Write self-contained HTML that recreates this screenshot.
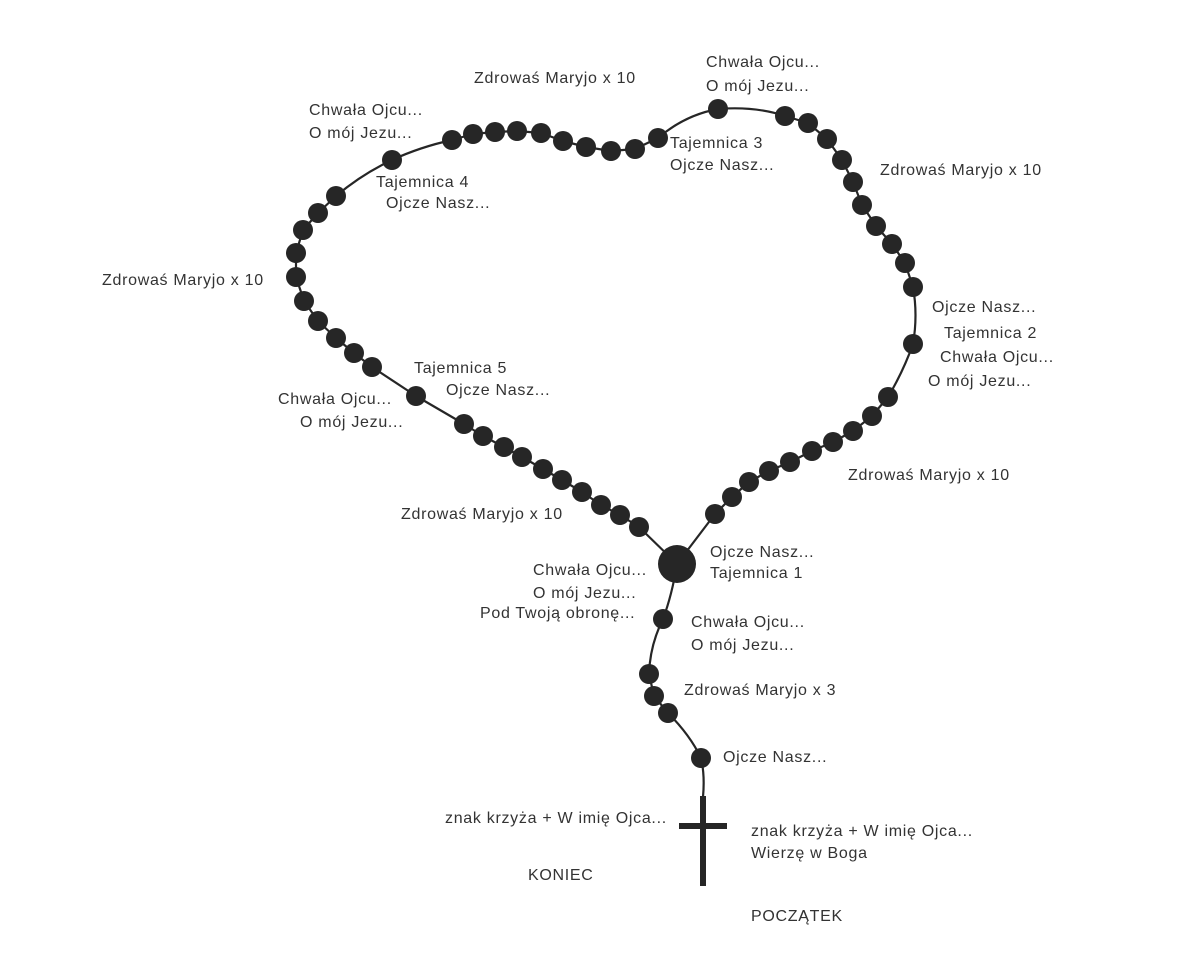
<!DOCTYPE html>
<html><head><meta charset="utf-8"><style>
html,body{margin:0;padding:0;background:#fff;}
svg{display:block;}
text{font-family:"Liberation Sans",sans-serif;font-size:16px;letter-spacing:0.7px;fill:#333;}
</style></head><body>
<svg width="1180" height="961" viewBox="0 0 1180 961">
<g fill="none" stroke="#262626" stroke-width="2.2" stroke-linejoin="round">
<path d="M677,564 L639,527 620,515 601,505 582,492 562,480 543,469 522,457 504,447 483,436 464,424 416,396 372,367 354,353 336,338 318,321 304,301 296,277 296,253 303,230 318,213 336,196 Q362,174 392,160 Q420,147 452,140 L473,134 495,132 517,131 541,133 563,141 586,147 611,151 635,149 658,138 Q685,115 718,109 Q755,106 785,116 L808,123 827,139 842,160 853,182 862,205 876,226 892,244 905,263 913,287 Q918,315 913,344 Q903,372 888,397 L872,416 853,431 833,442 812,451 790,462 769,471 749,482 732,497 715,514 Z"/>
<path d="M677,564 Q672,595 663,619 Q650,645 649,674 L654,696 668,713 Q690,735 701,758 Q705,775 703,797"/>
</g>
<g fill="#262626">
<circle cx="677" cy="564" r="19"/>
<circle cx="639" cy="527" r="10"/><circle cx="620" cy="515" r="10"/><circle cx="601" cy="505" r="10"/><circle cx="582" cy="492" r="10"/><circle cx="562" cy="480" r="10"/><circle cx="543" cy="469" r="10"/><circle cx="522" cy="457" r="10"/><circle cx="504" cy="447" r="10"/><circle cx="483" cy="436" r="10"/><circle cx="464" cy="424" r="10"/><circle cx="416" cy="396" r="10"/>
<circle cx="372" cy="367" r="10"/><circle cx="354" cy="353" r="10"/><circle cx="336" cy="338" r="10"/><circle cx="318" cy="321" r="10"/><circle cx="304" cy="301" r="10"/><circle cx="296" cy="277" r="10"/><circle cx="296" cy="253" r="10"/><circle cx="303" cy="230" r="10"/><circle cx="318" cy="213" r="10"/><circle cx="336" cy="196" r="10"/><circle cx="392" cy="160" r="10"/>
<circle cx="452" cy="140" r="10"/><circle cx="473" cy="134" r="10"/><circle cx="495" cy="132" r="10"/><circle cx="517" cy="131" r="10"/><circle cx="541" cy="133" r="10"/><circle cx="563" cy="141" r="10"/><circle cx="586" cy="147" r="10"/><circle cx="611" cy="151" r="10"/><circle cx="635" cy="149" r="10"/><circle cx="658" cy="138" r="10"/><circle cx="718" cy="109" r="10"/>
<circle cx="785" cy="116" r="10"/><circle cx="808" cy="123" r="10"/><circle cx="827" cy="139" r="10"/><circle cx="842" cy="160" r="10"/><circle cx="853" cy="182" r="10"/><circle cx="862" cy="205" r="10"/><circle cx="876" cy="226" r="10"/><circle cx="892" cy="244" r="10"/><circle cx="905" cy="263" r="10"/><circle cx="913" cy="287" r="10"/><circle cx="913" cy="344" r="10"/>
<circle cx="888" cy="397" r="10"/><circle cx="872" cy="416" r="10"/><circle cx="853" cy="431" r="10"/><circle cx="833" cy="442" r="10"/><circle cx="812" cy="451" r="10"/><circle cx="790" cy="462" r="10"/><circle cx="769" cy="471" r="10"/><circle cx="749" cy="482" r="10"/><circle cx="732" cy="497" r="10"/><circle cx="715" cy="514" r="10"/>
<circle cx="663" cy="619" r="10"/><circle cx="649" cy="674" r="10"/><circle cx="654" cy="696" r="10"/><circle cx="668" cy="713" r="10"/><circle cx="701" cy="758" r="10"/>
<rect x="700" y="796" width="6" height="90"/>
<rect x="679" y="823" width="48" height="6"/>
</g>
<g>
<text x="474" y="83">Zdrowaś Maryjo x 10</text>
<text x="706" y="67">Chwała Ojcu...</text><text x="706" y="91">O mój Jezu...</text>
<text x="309" y="115">Chwała Ojcu...</text><text x="309" y="138">O mój Jezu...</text>
<text x="670" y="148">Tajemnica 3</text><text x="670" y="170">Ojcze Nasz...</text>
<text x="880" y="175">Zdrowaś Maryjo x 10</text>
<text x="376" y="187">Tajemnica 4</text><text x="386" y="208">Ojcze Nasz...</text>
<text x="102" y="285">Zdrowaś Maryjo x 10</text>
<text x="932" y="312">Ojcze Nasz...</text><text x="944" y="338">Tajemnica 2</text><text x="940" y="362">Chwała Ojcu...</text><text x="928" y="386">O mój Jezu...</text>
<text x="414" y="373">Tajemnica 5</text><text x="446" y="395">Ojcze Nasz...</text>
<text x="278" y="404">Chwała Ojcu...</text><text x="300" y="427">O mój Jezu...</text>
<text x="848" y="480">Zdrowaś Maryjo x 10</text>
<text x="401" y="519">Zdrowaś Maryjo x 10</text>
<text x="710" y="557">Ojcze Nasz...</text><text x="710" y="578">Tajemnica 1</text>
<text x="533" y="575">Chwała Ojcu...</text><text x="533" y="598">O mój Jezu...</text><text x="480" y="618">Pod Twoją obronę...</text>
<text x="691" y="627">Chwała Ojcu...</text><text x="691" y="650">O mój Jezu...</text>
<text x="684" y="695">Zdrowaś Maryjo x 3</text>
<text x="723" y="762">Ojcze Nasz...</text>
<text x="445" y="823">znak krzyża + W imię Ojca...</text>
<text x="751" y="836">znak krzyża + W imię Ojca...</text><text x="751" y="858">Wierzę w Boga</text>
<text x="528" y="880">KONIEC</text>
<text x="751" y="921">POCZĄTEK</text>
</g>
</svg>
</body></html>
